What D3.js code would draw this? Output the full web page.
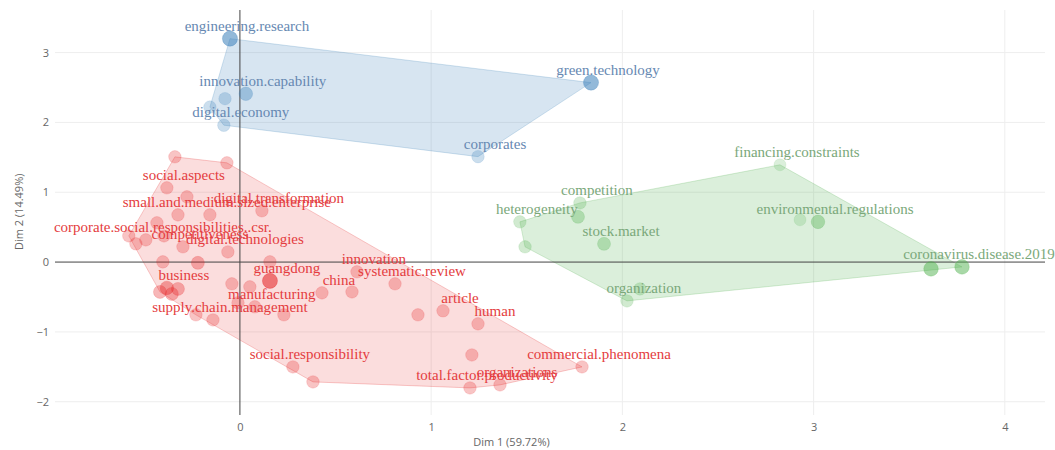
<!DOCTYPE html>
<html>
<head>
<meta charset="utf-8">
<script src="https://cdn.jsdelivr.net/npm/d3@7"></script>
<style>
  html, body { margin: 0; padding: 0; background: #fff; }
  svg { display: block; }
</style>
</head>
<body>
<div id="chart"></div>
<script>
// ---------------- DATA ----------------
const clusterNames = ["Cluster 1", "Cluster 2", "Cluster 3"];
const clusterColors = ["#E41A1C", "#377EB8", "#4DAF4A"];
const textColors = ["#E43C40", "#6688B2", "#7AA87A"];

const xTicks = [0, 1, 2, 3, 4];
const yTicks = [-2, -1, 0, 1, 2, 3];
const xTitle = "Dim 1 (59.72%)";
const yTitle = "Dim 2 (14.49%)";

// variable labels (null = point drawn without label)
const varLabels = [
  // cluster 2 (blue)
  "engineering.research", "innovation.capability", null, null, "digital.economy", "green.technology", "corporates",
  // cluster 3 (green)
  "competition", null, "heterogeneity", null, "stock.market", null, "organization", "financing.constraints", null,
  "environmental.regulations", null, "coronavirus.disease.2019",
  // cluster 1 (red)
  null, null, "social.aspects", null, null, "small.and.medium.sized.enterprise", "digital.transformation", null,
  null, null, "corporate.social.responsibilities..csr.", null, "competitiveness", "digital.technologies",
  null, null, null, "business", null, null, null, null, null, "guangdong", "china", null, "innovation",
  "systematic.review", null, "manufacturing", "supply.chain.management", null, null, "article", null, "human",
  null, "social.responsibility", null, "total.factor.productivity", "organizations", "commercial.phenomena"
];
const dim1 = [
  -0.052, 0.031, -0.078, -0.157, -0.084, 1.836, 1.245,
  1.778, 1.768, 1.464, 1.491, 1.904, 2.092, 2.024, 2.824, 2.929, 3.023, 3.614, 3.776,
  -0.340, -0.068, -0.382, -0.277, -0.324, -0.157, 0.115, -0.434,
  -0.581, -0.544, -0.492, -0.397, -0.298, -0.063,
  -0.403, -0.220, 0.157, -0.382, -0.418, -0.356, -0.324, -0.042, 0.052, 0.157, 0.429, 0.586, 0.612,
  0.811, -0.010, 0.078, -0.141, -0.230, 0.230, 1.062, 0.931, 1.245,
  1.213, 0.277, 0.382, 1.203, 1.360, 1.789
];
const dim2 = [
  3.20, 2.41, 2.34, 2.22, 1.96, 2.57, 1.51,
  0.847, 0.648, 0.576, 0.218, 0.261, -0.384, -0.556, 1.393, 0.605, 0.576, -0.097, -0.069,
  1.507, 1.421, 1.063, 0.934, 0.676, 0.676, 0.734, 0.562,
  0.375, 0.261, 0.318, 0.375, 0.218, 0.146,
  0.003, -0.011, 0.003, -0.370, -0.427, -0.456, -0.384, -0.312, -0.355, -0.269, -0.441, -0.427, -0.140,
  -0.312, -0.583, -0.641, -0.828, -0.756, -0.756, -0.698, -0.756, -0.885,
  -1.330, -1.501, -1.716, -1.802, -1.759, -1.501
];
const cluster = [
  1, 1, 1, 1, 1, 1, 1,
  2, 2, 2, 2, 2, 2, 2, 2, 2, 2, 2, 2,
  0, 0, 0, 0, 0, 0, 0, 0,
  0, 0, 0, 0, 0, 0,
  0, 0, 0, 0, 0, 0, 0, 0, 0, 0, 0, 0, 0,
  0, 0, 0, 0, 0, 0, 0, 0, 0,
  0, 0, 0, 0, 0, 0
];
// contribution (drives marker alpha / size)
const contrib = [
  7, 4, 2, 2, 2, 7, 2,
  2, 3, 2, 2, 3, 2, 2, 1, 1, 4, 6, 6,
  2, 2, 2, 2, 2, 2, 2, 2,
  2, 2, 2, 2, 2, 2,
  2, 3, 2, 4, 3, 3, 3, 2, 2, 7, 2, 2, 2,
  2, 2, 2, 2, 2, 2, 2, 2, 2,
  2, 2, 2, 2, 2, 2
];

// ---------------- LAYOUT ----------------
const W = 1055, H = 450;
const margin = { top: 10, right: 10, bottom: 35, left: 55 };

const svg = d3.select("#chart").append("svg").attr("width", W).attr("height", H);

const x = d3.scaleLinear().domain([-0.967, 4.21]).range([margin.left, W - margin.right]);
const y = d3.scaleLinear().domain([-2.19, 3.61]).range([H - margin.bottom, margin.top]);

const opac = d3.scaleLinear().domain([1, 8]).range([0.2, 0.6]);
const rad = d3.scaleLinear().domain([1, 8]).range([6, 7.8]);

const points = dim1.map((d, i) => ({
  x: d, y: dim2[i], c: cluster[i], label: varLabels[i], contrib: contrib[i]
}));

// grid
const grid = svg.append("g");
grid.selectAll("line.gx").data(xTicks.filter(t => t !== 0)).join("line")
  .attr("x1", d => x(d)).attr("x2", d => x(d))
  .attr("y1", margin.top).attr("y2", H - margin.bottom)
  .attr("stroke", "#eeeeee").attr("stroke-width", 1);
grid.selectAll("line.gy").data(yTicks.filter(t => t !== 0)).join("line")
  .attr("y1", d => y(d)).attr("y2", d => y(d))
  .attr("x1", margin.left).attr("x2", W - margin.right)
  .attr("stroke", "#eeeeee").attr("stroke-width", 1);

// axes (ticks labels only, plotly style)
const xAxis = d3.axisBottom(x).tickValues(xTicks).tickSize(0).tickPadding(8)
  .tickFormat(d => d3.format("d")(d).replace("-", "\u2212"));
const gx = svg.append("g").attr("transform", `translate(0,${H - margin.bottom})`).call(xAxis);
gx.select(".domain").remove();
gx.selectAll("text").attr("font-family", "'Open Sans', sans-serif").attr("font-size", 11).attr("fill", "#666");

const yAxis = d3.axisLeft(y).tickValues(yTicks).tickSize(0).tickPadding(6)
  .tickFormat(d => d3.format("d")(d).replace("-", "\u2212"));
const gy = svg.append("g").attr("transform", `translate(${margin.left},0)`).call(yAxis);
gy.select(".domain").remove();
gy.selectAll("text").attr("font-family", "'Open Sans', sans-serif").attr("font-size", 11).attr("fill", "#666");

// hulls
const hullOpacity = [0.15, 0.2, 0.2];
const hullG = svg.append("g");
clusterNames.forEach((name, ci) => {
  const pts = points.filter(p => p.c === ci).map(p => [x(p.x), y(p.y)]);
  const hull = d3.polygonHull(pts);
  hullG.append("path")
    .attr("d", "M" + hull.join("L") + "Z")
    .attr("fill", clusterColors[ci]).attr("fill-opacity", hullOpacity[ci])
    .attr("stroke", clusterColors[ci]).attr("stroke-opacity", 0.22).attr("stroke-width", 1);
});

// zero lines
svg.append("line")
  .attr("x1", x(0)).attr("x2", x(0)).attr("y1", margin.top).attr("y2", H - margin.bottom)
  .attr("stroke", "#444").attr("stroke-width", 1);
svg.append("line")
  .attr("y1", y(0)).attr("y2", y(0)).attr("x1", margin.left).attr("x2", W - margin.right)
  .attr("stroke", "#444").attr("stroke-width", 1);

// points
svg.append("g").selectAll("circle").data(points).join("circle")
  .attr("cx", d => x(d.x)).attr("cy", d => y(d.y))
  .attr("r", d => rad(d.contrib))
  .attr("fill", d => clusterColors[d.c]).attr("fill-opacity", d => opac(d.contrib))
  .attr("stroke", d => clusterColors[d.c]).attr("stroke-opacity", d => opac(d.contrib) * 0.5)
  .attr("stroke-width", 1);

// labels
svg.append("g").selectAll("text").data(points.filter(p => p.label)).join("text")
  .attr("x", d => x(d.x) + 17).attr("y", d => y(d.y) - 8)
  .attr("text-anchor", "middle")
  .attr("font-family", "'Liberation Serif', 'Times New Roman', serif")
  .attr("font-size", 15)
  .attr("fill", d => textColors[d.c])
  .text(d => d.label);

// axis titles
svg.append("text")
  .attr("x", x(1.42)).attr("y", 446)
  .attr("text-anchor", "middle")
  .attr("font-family", "'Open Sans', sans-serif").attr("font-size", 11).attr("fill", "#666")
  .text(xTitle);
svg.append("text")
  .attr("transform", `translate(23,${y(0.72)}) rotate(-90)`)
  .attr("text-anchor", "middle")
  .attr("font-family", "'Open Sans', sans-serif").attr("font-size", 11).attr("fill", "#666")
  .text(yTitle);
</script>
</body>
</html>
